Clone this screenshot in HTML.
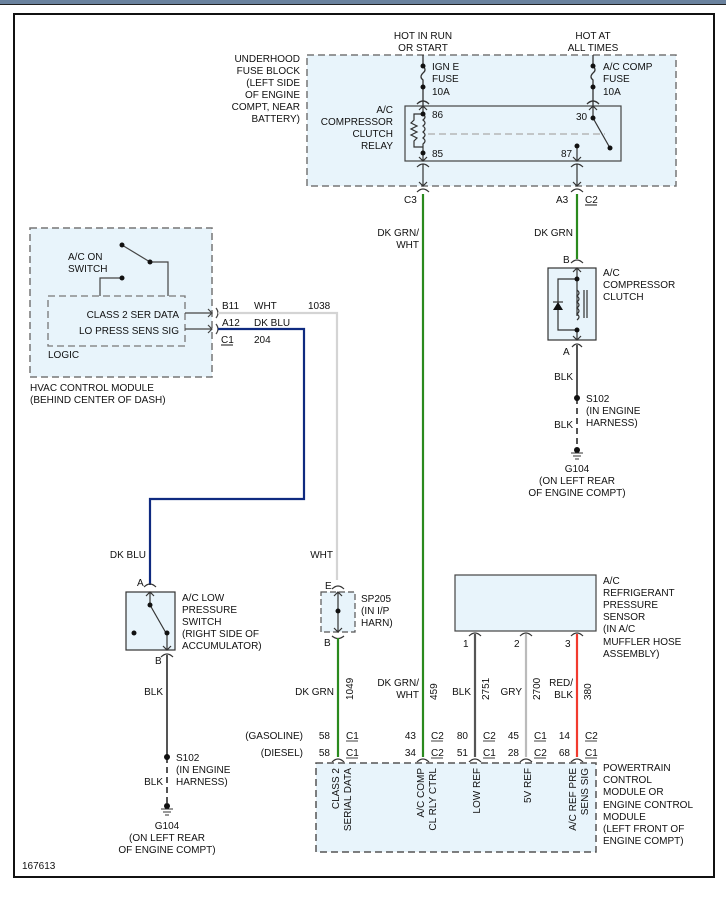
<!DOCTYPE html>
<html><head><meta charset="utf-8"><style>
html,body{margin:0;padding:0;background:#fff}
svg{display:block}
text{font-family:"Liberation Sans",sans-serif;font-size:10px;fill:#111}
</style></head><body>
<svg width="726" height="897" viewBox="0 0 726 897" xmlns="http://www.w3.org/2000/svg">
<rect x="0" y="0" width="726" height="4" fill="#6a829e"/>
<line x1="0" y1="4.5" x2="726" y2="4.5" stroke="#222" stroke-width="1"/>
<rect x="14" y="14" width="700" height="863" fill="none" stroke="#111" stroke-width="2"/>

<!-- Underhood fuse block -->
<rect x="307" y="55" width="369" height="131" fill="#e8f4fb" stroke="#777" stroke-width="1.5" stroke-dasharray="7,4"/>
<g text-anchor="end"><text x="300" y="62">UNDERHOOD</text><text x="300" y="74">FUSE BLOCK</text><text x="300" y="86">(LEFT SIDE</text><text x="300" y="98">OF ENGINE</text><text x="300" y="110">COMPT, NEAR</text><text x="300" y="122">BATTERY)</text></g>
<g text-anchor="middle"><text x="423" y="39">HOT IN RUN</text><text x="423" y="51">OR START</text><text x="593" y="39">HOT AT</text><text x="593" y="51">ALL TIMES</text></g>
<g stroke="#333" stroke-width="1.3" fill="none">
<line x1="423" y1="55" x2="423" y2="66"/><path d="M423 66 q4 4 0 7 q-4 4 0 7 v7"/>
<line x1="423" y1="87" x2="423" y2="106"/>
<line x1="593" y1="55" x2="593" y2="66"/><path d="M593 66 q4 4 0 7 q-4 4 0 7 v7"/>
<line x1="593" y1="87" x2="593" y2="106"/>
<path d="M417 104 q6 -6 12 0 M587 104 q6 -6 12 0"/>
</g>
<g fill="#111"><circle cx="423" cy="66" r="2.5"/><circle cx="423" cy="87" r="2.5"/><circle cx="593" cy="66" r="2.5"/><circle cx="593" cy="87" r="2.5"/></g>
<text x="432" y="70">IGN E</text><text x="432" y="82">FUSE</text><text x="432" y="95">10A</text>
<text x="603" y="70">A/C COMP</text><text x="603" y="82">FUSE</text><text x="603" y="95">10A</text>
<rect x="405" y="106" width="216" height="55" fill="#e8f4fb" stroke="#444" stroke-width="1.2"/>
<g text-anchor="end"><text x="393" y="113">A/C</text><text x="393" y="125">COMPRESSOR</text><text x="393" y="137">CLUTCH</text><text x="393" y="149">RELAY</text></g>
<g stroke="#333" stroke-width="1.2" fill="none">
<path d="M423 106 v7 M419 110 l4 -4 l4 4"/>
<path d="M423 114 q4 3 0 6 q4 3 0 6 q4 3 0 6 q4 3 0 6 q4 3 0 6 v9"/>
<path d="M423 114 h-9 v6 l-3 3 l6 3 l-6 3 l6 3 l-6 3 l6 3 l-3 3 v6 h9"/>
<path d="M423 153 v8 M419 157 l4 4 l4 -4"/>
<line x1="428" y1="134" x2="605" y2="134" stroke="#aaa" stroke-dasharray="7,4"/>
<path d="M593 106 v12 M589 110 l4 -4 l4 4"/>
<line x1="593" y1="118" x2="610" y2="148"/>
<path d="M577 146 v15 M573 157 l4 4 l4 -4"/>
<path d="M417 167 q6 -6 12 0 M571 167 q6 -6 12 0"/>
<path d="M423 164 v22 M419 182 l4 4 l4 -4 M577 164 v22 M573 182 l4 4 l4 -4"/>
<path d="M417 192 q6 -6 12 0 M571 192 q6 -6 12 0"/>
</g>
<g fill="#111"><circle cx="423" cy="114" r="2.5"/><circle cx="423" cy="153" r="2.5"/><circle cx="593" cy="118" r="2.5"/><circle cx="610" cy="148" r="2.5"/><circle cx="577" cy="146" r="2.5"/></g>
<text x="432" y="118">86</text><text x="432" y="157">85</text><text x="576" y="120">30</text><text x="561" y="157">87</text>
<text x="404" y="203">C3</text><text x="556" y="203">A3</text><text x="585" y="203">C2</text><line x1="585" y1="205" x2="597" y2="205" stroke="#111"/>

<!-- green wires -->
<line x1="423" y1="194" x2="423" y2="757" stroke="#2a8a1e" stroke-width="2.2"/>
<line x1="577" y1="194" x2="577" y2="259" stroke="#2a8a1e" stroke-width="2.2"/>
<g text-anchor="end"><text x="419" y="236">DK GRN/</text><text x="419" y="248">WHT</text><text x="573" y="236">DK GRN</text></g>

<!-- compressor clutch -->
<text x="563" y="263">B</text>
<path d="M571 263 q6 -6 12 0" stroke="#333" fill="none" stroke-width="1.2"/>
<rect x="548" y="268" width="48" height="72" fill="#e8f4fb" stroke="#333" stroke-width="1.2"/>
<g stroke="#333" stroke-width="1.2" fill="none">
<path d="M577 268 v48 M573 272 l4 -4 l4 4"/>
<path d="M577 279 h-19 v51 h19 v10 M573 336 l4 4 l4 -4"/>
<path d="M577 290 q4 3 0 6 q4 3 0 6 q4 3 0 6 q4 3 0 6 q4 3 0 6"/>
<path d="M584 290 v28 M587 290 v28"/>
<line x1="553" y1="302" x2="563" y2="302"/>
<path d="M572 347 q5 -6 10 0"/>
</g>
<path d="M553 310 l5 -8 l5 8z" fill="#111"/>
<g fill="#111"><circle cx="577" cy="279" r="2.5"/><circle cx="577" cy="330" r="2.5"/></g>
<text x="603" y="276">A/C</text><text x="603" y="288">COMPRESSOR</text><text x="603" y="300">CLUTCH</text>
<text x="563" y="355">A</text>
<line x1="577" y1="345" x2="577" y2="398" stroke="#555" stroke-width="2"/>
<line x1="577" y1="398" x2="577" y2="447" stroke="#555" stroke-width="2" stroke-dasharray="6,4"/>
<circle cx="577" cy="398" r="3" fill="#111"/>
<text x="573" y="380" text-anchor="end">BLK</text><text x="573" y="428" text-anchor="end">BLK</text>
<text x="586" y="402">S102</text><text x="586" y="414">(IN ENGINE</text><text x="586" y="426">HARNESS)</text>
<circle cx="577" cy="450" r="3" fill="#111"/><g stroke="#333"><line x1="571" y1="453" x2="583" y2="453"/><line x1="573" y1="456" x2="581" y2="456"/><line x1="575" y1="459" x2="579" y2="459"/></g>
<g text-anchor="middle"><text x="577" y="472">G104</text><text x="577" y="484">(ON LEFT REAR</text><text x="577" y="496">OF ENGINE COMPT)</text></g>

<!-- HVAC module -->
<rect x="30" y="228" width="182" height="149" fill="#e8f4fb" stroke="#777" stroke-width="1.5" stroke-dasharray="7,4"/>
<rect x="48" y="296" width="137" height="50" fill="none" stroke="#777" stroke-width="1.3" stroke-dasharray="7,4"/>
<g stroke="#444" stroke-width="1.2" fill="none">
<line x1="122" y1="245" x2="150" y2="262"/>
<path d="M150 262 h18 v34"/>
<path d="M122 278 h-22 v18"/>
<path d="M185 313 h27 M208 309 l4 4 l-4 4 M185 329 h27 M208 325 l4 4 l-4 4"/>
<path d="M216 308 q4 5 0 10 M216 324 q4 5 0 10"/>
</g>
<g fill="#111"><circle cx="122" cy="245" r="2.5"/><circle cx="150" cy="262" r="2.5"/><circle cx="122" cy="278" r="2.5"/></g>
<text x="68" y="260">A/C ON</text><text x="68" y="272">SWITCH</text>
<g text-anchor="end"><text x="179" y="318">CLASS 2 SER DATA</text><text x="179" y="334">LO PRESS SENS SIG</text></g>
<text x="48" y="358">LOGIC</text>
<text x="30" y="391">HVAC CONTROL MODULE</text><text x="30" y="403">(BEHIND CENTER OF DASH)</text>
<text x="222" y="309">B11</text><text x="254" y="309">WHT</text><text x="308" y="309">1038</text>
<text x="222" y="326">A12</text><text x="254" y="326">DK BLU</text>
<text x="221" y="343">C1</text><line x1="221" y1="345" x2="233" y2="345" stroke="#111"/><text x="254" y="343">204</text>
<path d="M218 313 H337 V580" stroke="#d4d4d4" stroke-width="2.2" fill="none"/>
<path d="M218 329 H304 V499 H150 V585" stroke="#0f2a80" stroke-width="2.2" fill="none"/>
<text x="333" y="558" text-anchor="end">WHT</text>
<text x="146" y="558" text-anchor="end">DK BLU</text>

<!-- low pressure switch -->
<text x="137" y="586">A</text>
<path d="M144 587 q6 -6 12 0" stroke="#333" fill="none" stroke-width="1.2"/>
<rect x="126" y="592" width="49" height="58" fill="#e8f4fb" stroke="#333" stroke-width="1.2"/>
<g stroke="#333" stroke-width="1.2" fill="none">
<path d="M150 592 v13 M146 596 l4 -4 l4 4"/>
<line x1="150" y1="605" x2="166" y2="633"/>
<path d="M167 633 v17 M163 646 l4 4 l4 -4"/>
<path d="M161 657 q6 -6 12 0"/>
</g>
<g fill="#111"><circle cx="150" cy="605" r="2.5"/><circle cx="167" cy="633" r="2.5"/><circle cx="134" cy="633" r="2.5"/></g>
<text x="182" y="601">A/C LOW</text><text x="182" y="613">PRESSURE</text><text x="182" y="625">SWITCH</text><text x="182" y="637">(RIGHT SIDE OF</text><text x="182" y="649">ACCUMULATOR)</text>
<text x="155" y="664">B</text>
<line x1="167" y1="655" x2="167" y2="757" stroke="#555" stroke-width="2"/>
<line x1="167" y1="757" x2="167" y2="803" stroke="#555" stroke-width="2" stroke-dasharray="6,4"/>
<text x="163" y="695" text-anchor="end">BLK</text>
<circle cx="167" cy="757" r="3" fill="#111"/>
<text x="176" y="761">S102</text><text x="176" y="773">(IN ENGINE</text><text x="176" y="785">HARNESS)</text>
<text x="163" y="785" text-anchor="end">BLK</text>
<circle cx="167" cy="806" r="3" fill="#111"/><g stroke="#333"><line x1="161" y1="809" x2="173" y2="809"/><line x1="163" y1="812" x2="171" y2="812"/><line x1="165" y1="815" x2="169" y2="815"/></g>
<g text-anchor="middle"><text x="167" y="829">G104</text><text x="167" y="841">(ON LEFT REAR</text><text x="167" y="853">OF ENGINE COMPT)</text></g>
<text x="22" y="869">167613</text>

<!-- SP205 -->
<text x="325" y="589">E</text>
<path d="M332 589 q6 -6 12 0" stroke="#333" fill="none" stroke-width="1.2"/>
<rect x="321" y="592" width="34" height="40" fill="#e8f4fb" stroke="#555" stroke-width="1.2" stroke-dasharray="6,3"/>
<g stroke="#333" stroke-width="1.2" fill="none">
<path d="M338 592 v40 M334 596 l4 -4 l4 4 M334 628 l4 4 l4 -4"/>
<path d="M332 636 q6 5 12 0"/>
</g>
<circle cx="338" cy="611" r="2.5" fill="#111"/>
<text x="361" y="602">SP205</text><text x="361" y="614">(IN I/P</text><text x="361" y="626">HARN)</text>
<text x="324" y="646">B</text>
<line x1="338" y1="638" x2="338" y2="757" stroke="#2a8a1e" stroke-width="2.2"/>
<text x="334" y="695" text-anchor="end">DK GRN</text>

<!-- sensor -->
<rect x="455" y="575" width="141" height="56" fill="#e8f4fb" stroke="#444" stroke-width="1.2"/>
<g><text x="603" y="584">A/C</text><text x="603" y="596">REFRIGERANT</text><text x="603" y="608">PRESSURE</text><text x="603" y="620">SENSOR</text><text x="603" y="632">(IN A/C</text><text x="603" y="645">MUFFLER HOSE</text><text x="603" y="657">ASSEMBLY)</text></g>
<g stroke="#333" stroke-width="1.2" fill="none"><path d="M469 636 q6 -6 12 0 M520 636 q6 -6 12 0 M571 636 q6 -6 12 0"/></g>
<text x="463" y="647">1</text><text x="514" y="647">2</text><text x="565" y="647">3</text>
<line x1="475" y1="634" x2="475" y2="757" stroke="#555" stroke-width="2.2"/>
<line x1="526" y1="634" x2="526" y2="757" stroke="#bbb" stroke-width="2.2"/>
<line x1="577" y1="634" x2="577" y2="757" stroke="#f23a2e" stroke-width="2.2"/>
<g text-anchor="end"><text x="419" y="686">DK GRN/</text><text x="419" y="698">WHT</text><text x="471" y="695">BLK</text><text x="522" y="695">GRY</text><text x="573" y="686">RED/</text><text x="573" y="698">BLK</text></g>
<g font-size="10"><text transform="translate(353,700) rotate(-90)">1049</text><text transform="translate(437,700) rotate(-90)">459</text><text transform="translate(489,700) rotate(-90)">2751</text><text transform="translate(540,700) rotate(-90)">2700</text><text transform="translate(591,700) rotate(-90)">380</text></g>

<!-- pin rows -->
<g text-anchor="end"><text x="303" y="739">(GASOLINE)</text><text x="303" y="756">(DIESEL)</text>
<text x="330" y="739">58</text><text x="330" y="756">58</text>
<text x="416" y="739">43</text><text x="416" y="756">34</text>
<text x="468" y="739">80</text><text x="468" y="756">51</text>
<text x="519" y="739">45</text><text x="519" y="756">28</text>
<text x="570" y="739">14</text><text x="570" y="756">68</text></g>
<g><text x="346" y="739">C1</text><text x="346" y="756">C1</text><text x="431" y="739">C2</text><text x="431" y="756">C2</text>
<text x="483" y="739">C2</text><text x="483" y="756">C1</text><text x="534" y="739">C1</text><text x="534" y="756">C2</text>
<text x="585" y="739">C2</text><text x="585" y="756">C1</text></g>
<g stroke="#111" stroke-width="0.8"><line x1="346" y1="741" x2="358" y2="741"/><line x1="431" y1="741" x2="443" y2="741"/><line x1="483" y1="741" x2="495" y2="741"/><line x1="534" y1="741" x2="546" y2="741"/><line x1="585" y1="741" x2="597" y2="741"/>
<line x1="346" y1="758" x2="358" y2="758"/><line x1="431" y1="758" x2="443" y2="758"/><line x1="483" y1="758" x2="495" y2="758"/><line x1="534" y1="758" x2="546" y2="758"/><line x1="585" y1="758" x2="597" y2="758"/></g>
<g stroke="#333" stroke-width="1.2" fill="none"><path d="M332 762 q6 -6 12 0 M417 762 q6 -6 12 0 M469 762 q6 -6 12 0 M520 762 q6 -6 12 0 M571 762 q6 -6 12 0"/></g>

<!-- PCM -->
<rect x="316" y="763" width="280" height="89" fill="#e8f4fb" stroke="#555" stroke-width="1.5" stroke-dasharray="7,4"/>
<g text-anchor="end">
<text transform="translate(339,768) rotate(-90)">CLASS 2</text><text transform="translate(351,768) rotate(-90)">SERIAL DATA</text>
<text transform="translate(424,768) rotate(-90)">A/C COMP</text><text transform="translate(436,768) rotate(-90)">CL RLY CTRL</text>
<text transform="translate(480,768) rotate(-90)">LOW REF</text>
<text transform="translate(531,768) rotate(-90)">5V REF</text>
<text transform="translate(576,768) rotate(-90)">A/C REF PRE</text><text transform="translate(588,768) rotate(-90)">SENS SIG</text>
</g>
<text x="603" y="771">POWERTRAIN</text><text x="603" y="783">CONTROL</text><text x="603" y="795">MODULE OR</text><text x="603" y="808">ENGINE CONTROL</text><text x="603" y="820">MODULE</text><text x="603" y="832">(LEFT FRONT OF</text><text x="603" y="844">ENGINE COMPT)</text>
</svg>
</body></html>
